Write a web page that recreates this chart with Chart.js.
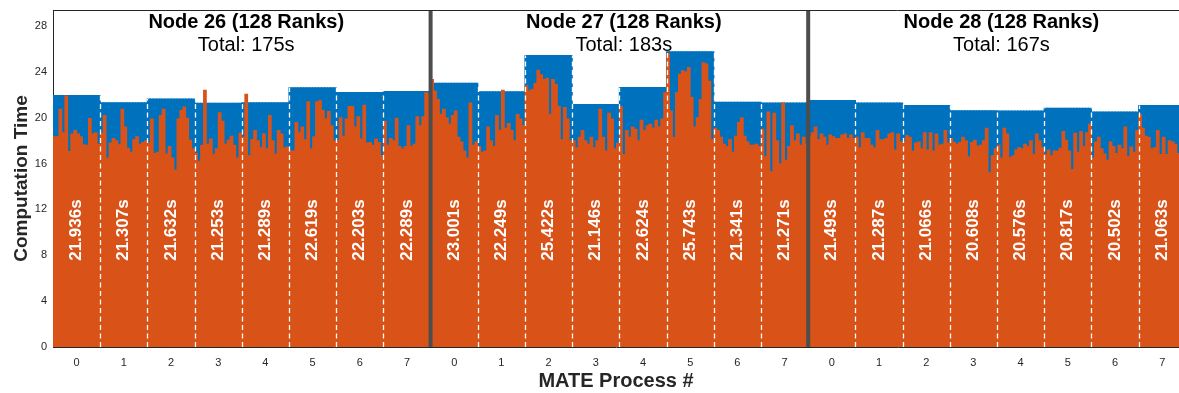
<!DOCTYPE html>
<html>
<head>
<meta charset="utf-8">
<title>MATE computation time per rank</title>
<script src="https://cdn.jsdelivr.net/npm/chart.js@4.4.1/dist/chart.umd.min.js"></script>
<style>
  html, body { margin: 0; padding: 0; background: #fff; }
  canvas { display: block; }
</style>
</head>
<body>
<canvas id="timeChart" width="1179" height="393"></canvas>
<script>
// Per-rank computation times (s), 16 ranks per MATE process, 8 processes per node
const node26Ranks = [
  18.35, 18.35, 20.75, 18.7, 21.9, 17.07, 18.6, 18.9, 18.6, 18.35, 17.65, 17.6, 19.95, 18.6, 18.7, 17.7,
  18.65, 20.2, 16.5, 17.8, 18.2, 18.0, 17.65, 20.75, 19.2, 17.35, 17.0, 18.1, 18.35, 17.7, 17.85, 18.0,
  17.8, 19.9, 16.9, 17.0, 20.2, 20.75, 16.85, 17.5, 16.5, 15.45, 19.9, 20.65, 20.95, 19.97, 18.05, 17.3,
  16.9, 16.2, 17.6, 22.4, 17.7, 18.15, 16.8, 17.3, 20.45, 19.7, 17.7, 18.05, 18.4, 17.6, 16.5, 18.65,
  18.3, 22.06, 16.7, 18.1, 18.9, 18.0, 17.4, 18.6, 17.3, 20.2, 18.0, 16.84, 18.9, 18.6, 17.4, 17.45,
  17.1, 17.1, 19.6, 18.7, 19.2, 18.1, 21.4, 17.3, 18.35, 21.4, 21.5, 20.65, 19.9, 20.55, 19.3, 18.0,
  18.0, 20.0, 18.4, 19.9, 21.0, 21.0, 19.2, 20.1, 18.15, 21.1, 17.8, 17.85, 17.6, 18.15, 17.85, 16.7,
  19.7, 17.6, 18.2, 18.0, 19.97, 17.5, 17.3, 17.5, 19.3, 17.5, 17.7, 20.1, 19.3, 20.1, 22.2, 22.1
];
const node27Ranks = [
  23.35, 22.35, 21.6, 20.3, 20.75, 20.0, 19.45, 20.2, 20.6, 18.3, 17.9, 17.1, 16.5, 21.3, 17.6, 17.9,
  17.5, 17.0, 17.1, 19.2, 18.0, 17.5, 20.2, 18.9, 22.4, 19.1, 19.5, 18.9, 18.0, 20.3, 19.9, 19.3,
  22.8, 22.35, 22.5, 23.0, 24.15, 23.75, 23.35, 23.45, 20.3, 23.35, 22.9, 21.0, 18.1, 20.9, 19.9, 18.0,
  18.0, 17.4, 18.3, 18.9, 18.0, 17.7, 18.3, 17.4, 18.0, 20.75, 18.3, 17.1, 20.4, 19.9, 17.3, 17.8,
  21.0, 16.8, 18.9, 18.3, 19.2, 19.0, 18.0, 19.8, 18.9, 19.3, 19.45, 19.1, 19.8, 19.2, 19.9, 22.2,
  25.6, 20.6, 18.3, 22.2, 23.8, 24.1, 24.0, 24.4, 21.8, 19.2, 20.0, 21.6, 24.8, 24.7, 23.2, 18.1,
  19.1, 18.9, 18.3, 17.7, 17.5, 18.1, 17.0, 18.4, 19.6, 20.0, 18.4, 17.9, 17.6, 17.6, 17.7, 17.5,
  19.0, 16.6, 20.5, 15.3, 20.4, 18.0, 16.0, 21.3, 16.3, 17.5, 19.3, 18.0, 18.6, 17.6, 18.3, 17.7
];
const node28Ranks = [
  18.3, 18.7, 19.2, 18.1, 18.6, 18.3, 17.6, 18.5, 18.35, 18.2, 18.2, 18.5, 18.6, 18.2, 18.5, 18.2,
  18.3, 17.4, 18.7, 18.2, 18.2, 17.6, 17.4, 18.9, 18.1, 18.1, 18.2, 18.6, 18.7, 17.2, 18.6, 17.9,
  17.9, 18.45, 18.3, 17.1, 17.8, 17.9, 17.3, 18.7, 17.2, 18.7, 17.1, 18.6, 17.6, 17.7, 18.9, 17.8,
  18.2, 17.85, 17.7, 17.85, 18.3, 18.0, 16.6, 17.85, 18.05, 17.55, 17.6, 18.0, 19.1, 15.2, 16.7, 17.3,
  17.6, 16.5, 19.1, 18.6, 16.55, 16.7, 17.2, 17.4, 17.3, 17.7, 17.5, 18.0, 16.8, 18.6, 18.0, 17.4,
  16.8, 17.2, 16.7, 17.1, 17.1, 17.35, 18.8, 18.05, 17.1, 15.5, 18.65, 17.0, 18.8, 17.5, 18.7, 19.45,
  16.5, 17.9, 18.3, 17.3, 16.85, 16.3, 17.9, 17.5, 16.9, 17.6, 17.3, 19.2, 16.6, 17.45, 17.0, 18.9,
  20.3, 19.1, 18.4, 18.3, 17.3, 17.4, 18.9, 16.8, 18.3, 16.8, 18.0, 17.9, 17.7, 16.9, 17.5, 17.5
];

// MATE process times (s) per node
const node26Mate = [21.936, 21.307, 21.632, 21.253, 21.289, 22.619, 22.203, 22.289];
const node27Mate = [23.001, 22.249, 25.422, 21.146, 22.624, 25.743, 21.341, 21.271];
const node28Mate = [21.493, 21.287, 21.066, 20.608, 20.576, 20.817, 20.502, 21.063];

const nodeIds = [26, 27, 28];
const processLabels = ['0', '1', '2', '3', '4', '5', '6', '7'];
const yTickValues = [0, 4, 8, 12, 16, 20, 24, 28];

const RANKS_PER_PROC = 16;
const PROCS_PER_NODE = 8;
const RANKS_PER_NODE = RANKS_PER_PROC * PROCS_PER_NODE;

const BLUE = '#0072BD';
const ORANGE = '#D95319';
const FONT = '"Liberation Sans", Arial, Helvetica, sans-serif';

const rankTimes = [...node26Ranks, ...node27Ranks, ...node28Ranks];
const nodeMate = [node26Mate, node27Mate, node28Mate];
const mateTimes = nodeMate.flat();

const rankPoints = rankTimes.map((v, i) => ({ x: i, y: v }));
const matePoints = rankTimes.map((_, i) => ({ x: i, y: mateTimes[Math.floor(i / RANKS_PER_PROC)] }));

const overlayPlugin = {
    id: 'mateOverlay',
    afterDatasetsDraw(chart) {
        const { ctx, chartArea, scales: { x, y } } = chart;
        const y0 = y.getPixelForValue(0);
        ctx.save();

        // white dashed lines between MATE processes
        ctx.strokeStyle = '#ffffff';
        ctx.lineWidth = 1.3;
        ctx.setLineDash([5, 3.5]);
        for (let g = 1; g < mateTimes.length; g++) {
            if (g % PROCS_PER_NODE === 0) continue;
            const px = Math.round(x.getPixelForValue(g * RANKS_PER_PROC - 0.5)) + 0.5;
            const top = y.getPixelForValue(Math.max(mateTimes[g - 1], mateTimes[g]));
            ctx.beginPath();
            ctx.moveTo(px, y0);
            ctx.lineTo(px, top);
            ctx.stroke();
        }
        ctx.setLineDash([]);

        // thick separators between nodes
        ctx.strokeStyle = '#4d4d4d';
        ctx.lineWidth = 4;
        for (let n = 1; n < nodeIds.length; n++) {
            const px = x.getPixelForValue(n * RANKS_PER_NODE - 0.5);
            ctx.beginPath();
            ctx.moveTo(px, chartArea.top);
            ctx.lineTo(px, chartArea.bottom);
            ctx.stroke();
        }

        // top frame line
        ctx.strokeStyle = '#262626';
        ctx.lineWidth = 1;
        ctx.beginPath();
        ctx.moveTo(chartArea.left, chartArea.top + 0.5);
        ctx.lineTo(chartArea.right, chartArea.top + 0.5);
        ctx.stroke();

        // rotated value labels inside each process bar
        ctx.fillStyle = '#ffffff';
        ctx.font = 'bold 17px ' + FONT;
        ctx.textAlign = 'center';
        ctx.textBaseline = 'middle';
        mateTimes.forEach((t, g) => {
            const cx = x.getPixelForValue(g * RANKS_PER_PROC + 7.5);
            const cy = y.getPixelForValue(10.2);
            ctx.save();
            ctx.translate(cx, cy);
            ctx.rotate(-Math.PI / 2);
            ctx.fillText(t.toFixed(3) + 's', 0, 0);
            ctx.restore();
        });

        // node headers with total time
        ctx.fillStyle = '#000000';
        nodeIds.forEach((id, n) => {
            const total = nodeMate[n].reduce((a, b) => a + b, 0);
            const cx = x.getPixelForValue(n * RANKS_PER_NODE + 65);
            ctx.font = 'bold 20px ' + FONT;
            ctx.fillText('Node ' + id + ' (128 Ranks)', cx, chartArea.top + 12);
            ctx.font = '20px ' + FONT;
            ctx.fillText('Total: ' + Math.round(total) + 's', cx, chartArea.top + 35);
        });

        ctx.restore();
    }
};

const ctx = document.getElementById('timeChart').getContext('2d');
new Chart(ctx, {
    type: 'bar',
    data: {
        datasets: [{
            label: 'Rank',
            data: rankPoints,
            backgroundColor: ORANGE,
            borderWidth: 0,
            inflateAmount: 0.4,
            grouped: false,
            barPercentage: 1,
            categoryPercentage: 1,
            order: 0
        }, {
            label: 'MATE process',
            data: matePoints,
            backgroundColor: BLUE,
            borderWidth: 0,
            inflateAmount: 0.6,
            grouped: false,
            barPercentage: 1,
            categoryPercentage: 1,
            order: 1
        }]
    },
    options: {
        responsive: false,
        animation: false,
        layout: { padding: { top: 10, right: 0, left: 0, bottom: 0 } },
        plugins: {
            legend: { display: false },
            tooltip: { enabled: false }
        },
        scales: {
            x: {
                type: 'linear',
                offset: false,
                min: -0.5,
                max: 381.2,
                grid: { display: false, drawTicks: false },
                border: { display: true, color: '#262626', width: 1 },
                afterBuildTicks: scale => {
                    scale.ticks = mateTimes.map((_, g) => ({ value: g * RANKS_PER_PROC + 7.5 }));
                },
                afterFit: scale => {
                    scale.height = 46;
                    scale.paddingLeft = 0;
                    scale.paddingRight = 0;
                },
                ticks: {
                    autoSkip: false,
                    maxRotation: 0,
                    padding: 9,
                    color: '#262626',
                    font: { family: FONT, size: 11 },
                    callback: (value, index) => processLabels[index % PROCS_PER_NODE]
                },
                title: {
                    display: true,
                    text: 'MATE Process #',
                    color: '#262626',
                    font: { family: FONT, size: 20, weight: 'bold' },
                    padding: { top: 0, bottom: 0 }
                }
            },
            y: {
                min: 0,
                max: 29.4,
                grid: { display: false, drawTicks: false },
                border: { display: true, color: '#262626', width: 1 },
                afterBuildTicks: scale => {
                    scale.ticks = yTickValues.map(v => ({ value: v }));
                },
                afterFit: scale => {
                    scale.width = 53;
                    scale.paddingTop = 0;
                    scale.paddingBottom = 0;
                },
                ticks: {
                    padding: 6,
                    color: '#262626',
                    font: { family: FONT, size: 11 }
                },
                title: {
                    display: true,
                    text: 'Computation Time',
                    color: '#262626',
                    font: { family: FONT, size: 19, weight: 'bold' },
                    padding: { top: 10, bottom: 0 }
                }
            }
        }
    },
    plugins: [overlayPlugin]
});
</script>
</body>
</html>
